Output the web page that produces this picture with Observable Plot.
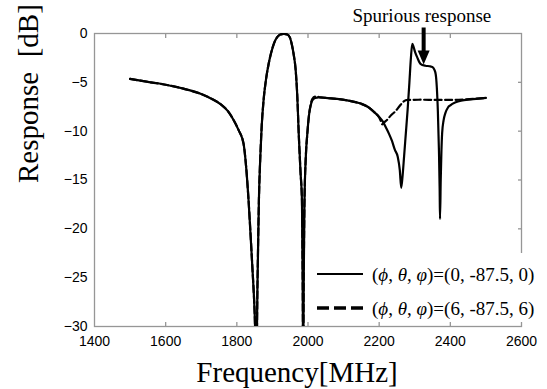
<!DOCTYPE html>
<html><head><meta charset="utf-8">
<script src="https://cdn.jsdelivr.net/npm/d3@7"></script>
<script src="https://cdn.jsdelivr.net/npm/@observablehq/plot@0.6"></script>
<style>
html,body{margin:0;padding:0;background:#fff;}
#wrap{position:relative;width:547px;height:389px;overflow:hidden;background:#fff;}
#legend{position:absolute;left:306px;top:253px;width:241px;height:69px;background:#fff;}
</style></head><body>
<div id="wrap"><div id="chart"></div><div id="legend"></div></div>
<script>
const freqA = [1500,1550,1600,1650,1700,1730,1755,1775,1790,1805,1819,1826,1833,1843,1850,1855,1858,1862,1866,1870,1875,1882,1890,1897,1905,1914,1922,1932,1942,1949,1955,1960,1965,1970,1974,1979,1983,1985,1986.5,1988,1990,1994,1998,2003,2008,2012,2020,2030,2050,2082,2110,2130,2150,2170,2186,2200,2210,2220,2228,2236,2244,2252,2258,2262,2266,2270,2275,2280,2285,2289,2293,2296,2301,2307,2316,2330,2342,2350,2355,2359,2362,2365,2368,2370,2371,2373,2375,2377,2381,2386,2393,2400,2415,2430,2457,2480,2500];
const respA = [-4.65,-4.95,-5.25,-5.65,-6.2,-6.7,-7.25,-7.95,-8.8,-9.9,-11.3,-13.6,-17.1,-23.5,-28.5,-34,-25.7,-17.1,-12.6,-9.4,-6.9,-4.7,-3.0,-1.9,-0.95,-0.35,-0.1,-0.05,-0.1,-0.4,-1.2,-2.2,-3.6,-6.5,-10.3,-14.2,-17.1,-25,-34,-25,-17.5,-12.5,-10.3,-8.3,-7.3,-6.85,-6.6,-6.55,-6.6,-6.7,-6.85,-7.0,-7.2,-7.55,-8.05,-8.55,-9.0,-9.7,-10.3,-11.0,-11.9,-12.6,-14.0,-15.8,-14.5,-12.6,-10.2,-7.8,-5.0,-2.6,-1.05,-1.3,-1.9,-2.45,-3.1,-3.3,-3.35,-3.45,-3.7,-4.2,-5.5,-8,-12,-16,-19,-15,-12,-10.2,-8.9,-8.15,-7.6,-7.35,-7.05,-6.88,-6.75,-6.67,-6.6];
const freqB = [1500,1550,1600,1650,1700,1730,1755,1775,1790,1805,1819,1826,1833,1843,1850,1855,1858,1862,1866,1870,1875,1882,1890,1897,1905,1914,1922,1932,1942,1949,1955,1960,1965,1970,1974,1979,1983,1985,1986.5,1988,1990,1994,1998,2003,2008,2012,2020,2030,2050,2082,2110,2130,2150,2170,2186,2194,2200,2205,2209,2214,2222,2234,2246,2258,2269,2280,2320,2360,2400,2440,2470,2500];
const respB = [-4.65,-4.95,-5.25,-5.65,-6.2,-6.7,-7.25,-7.95,-8.8,-9.9,-11.3,-13.6,-17.1,-23.5,-28.5,-34,-25.7,-17.1,-12.6,-9.4,-6.9,-4.7,-3.0,-1.9,-0.95,-0.35,-0.1,-0.05,-0.1,-0.4,-1.2,-2.2,-3.6,-6.5,-10.3,-14.2,-17.1,-25,-34,-25,-17.5,-12.5,-10.3,-8.3,-7.2,-6.7,-6.45,-6.5,-6.6,-6.7,-6.85,-7.0,-7.2,-7.55,-8.05,-8.3,-8.6,-9.0,-9.3,-9.1,-8.85,-8.35,-7.95,-7.4,-6.95,-6.8,-6.78,-6.8,-6.8,-6.75,-6.68,-6.6];

const seriesNames = ["(\u03D5, \u03B8, \u03C6)=(0, -87.5, 0)", "(\u03D5, \u03B8, \u03C6)=(6, -87.5, 6)"];
const xTicks = [1400,1600,1800,2000,2200,2400,2600];
const yTicks = [0,-5,-10,-15,-20,-25,-30];
const xLabel = "Frequency[MHz]";
const yLabel = "Response\u00a0\u00a0[dB]";
const annotation = [{label: "Spurious response", textFreq: 2320, textY: 1.84, arrowFreq: 2325, arrowTop: 0.61}];

const rowsA = freqA.map((f, i) => ({f, r: respA[i]}));
const rowsB = freqB.map((f, i) => ({f, r: respB[i]}));

const serif = "'Liberation Serif', 'Times New Roman', serif";
const sans = "'Liberation Sans', Arial, sans-serif";
const gray = "#969696";

const arrowShape = {
  draw(context, l) {
    const hw = 2, hh = 14, aw = 6;
    context.moveTo(-hw, 0);
    context.lineTo(hw, 0);
    context.lineTo(hw, -(l - hh));
    context.lineTo(aw, -(l - hh));
    context.lineTo(0, -l);
    context.lineTo(-aw, -(l - hh));
    context.lineTo(-hw, -(l - hh));
    context.closePath();
  }
};

const chart = Plot.plot({
  width: 547, height: 389,
  marginLeft: 94, marginRight: 26, marginTop: 33, marginBottom: 63,
  style: {fontFamily: sans, background: "white", overflow: "visible", color: "black"},
  x: {domain: [1400, 2600]},
  y: {domain: [-30, 0]},
  marks: [
    Plot.frame({stroke: gray, strokeWidth: 1.3}),
    Plot.axisX(xTicks.slice(1, -1), {anchor: "bottom", tickSize: 4, dy: -4, stroke: gray, strokeWidth: 1.3, tickFormat: () => "", label: null}),
    Plot.axisX(xTicks.slice(1, -1), {anchor: "top", tickSize: 4, dy: 4, stroke: gray, strokeWidth: 1.3, tickFormat: () => "", label: null}),
    Plot.axisY(yTicks.slice(1, -1), {anchor: "right", tickSize: 4, dx: -4, stroke: gray, strokeWidth: 1.3, tickFormat: () => "", label: null}),
    Plot.axisX(xTicks, {anchor: "bottom", tickSize: 0, tickPadding: 9.5, tickFormat: "d", fontSize: 14, fill: "black", label: null}),
    Plot.axisY(yTicks, {anchor: "left", tickSize: 0, tickPadding: 7, fontSize: 14, fill: "black", label: null}),
    Plot.line(rowsA, {x: "f", y: "r", curve: "monotone-x", stroke: "black", strokeWidth: 2.2, clip: true}),
    Plot.line(rowsB, {x: "f", y: "r", curve: "monotone-x", stroke: "black", strokeWidth: 2.2, strokeDasharray: "7,3.5", clip: true}),
    Plot.text([yLabel], {text: d => d, frameAnchor: "left", rotate: -90, dx: -66, dy: 3, fontSize: 29, fontFamily: serif, fill: "black"}),
    Plot.text([xLabel], {text: d => d, frameAnchor: "bottom", dx: -11, dy: 55.5, fontSize: 29, fontFamily: serif, fill: "black"}),
    Plot.text(annotation, {x: "textFreq", y: "textY", text: "label", fontSize: 19, fontFamily: serif, fill: "black"}),
    Plot.vector(annotation, {x: "arrowFreq", y: "arrowTop", length: 37, rotate: 180, anchor: "start", shape: arrowShape, fill: "black", stroke: "none"})
  ]
});
document.getElementById("chart").appendChild(chart);

const lg = d3.select("#legend").append("svg").attr("width", 241).attr("height", 69);
const styles = [{dash: null, w: 2.2}, {dash: "12,5", w: 3.5}];
seriesNames.forEach((name, i) => {
  const y = 21 + i * 34;
  lg.append("line").attr("x1", 11).attr("x2", 57).attr("y1", y).attr("y2", y)
    .attr("stroke", "black").attr("stroke-width", styles[i].w)
    .attr("stroke-dasharray", styles[i].dash);
  const t = lg.append("text").attr("x", 66).attr("y", y + 6.5)
    .attr("font-family", serif).attr("font-size", 19).attr("fill", "black");
  name.split(/([\u0370-\u03FF])/).forEach(p => {
    if (!p) return;
    const ts = t.append("tspan").text(p);
    if (/[\u0370-\u03FF]/.test(p)) ts.attr("font-style", "italic");
  });
});
</script>
</body></html>
